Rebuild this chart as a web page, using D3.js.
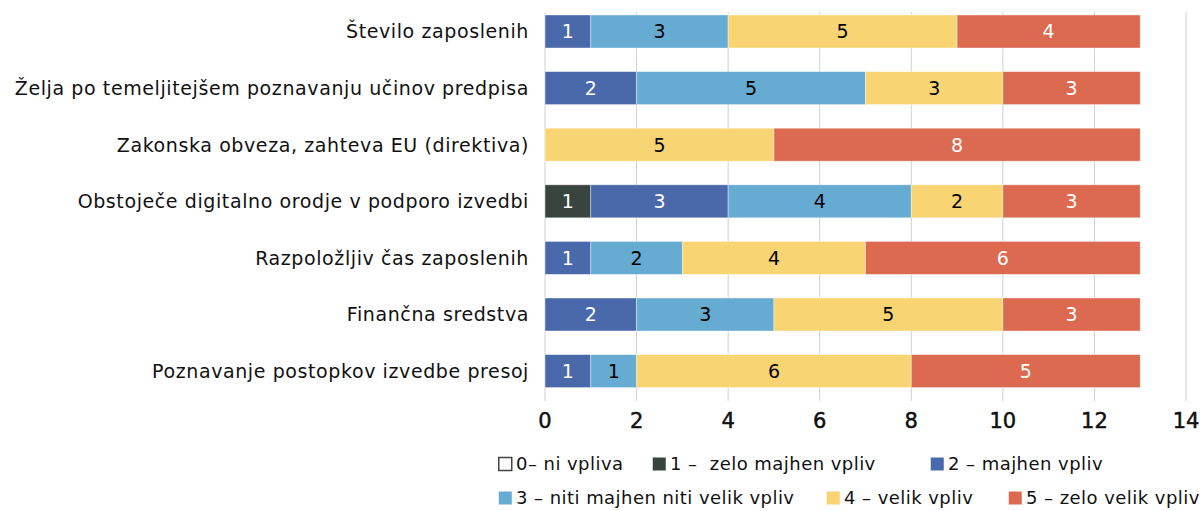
<!DOCTYPE html>
<html>
<head>
<meta charset="utf-8">
<script src="https://cdn.jsdelivr.net/npm/d3@7"></script>
<style>
  body { margin: 0; background: #fff; }
  text { font-family: "DejaVu Sans", sans-serif; white-space: pre; }
</style>
</head>
<body>
<svg id="chart" width="1203" height="511"></svg>
<script>
// categories, top to bottom
var categories = [
  "Število zaposlenih",
  "Želja po temeljitejšem poznavanju učinov predpisa",
  "Zakonska obveza, zahteva EU (direktiva)",
  "Obstoječe digitalno orodje v podporo izvedbi",
  "Razpoložljiv čas zaposlenih",
  "Finančna sredstva",
  "Poznavanje postopkov izvedbe presoj"
];

// one array per answer level (0..5), same order as categories
var s0 = [0, 0, 0, 0, 0, 0, 0];
var s1 = [0, 0, 0, 1, 0, 0, 0];
var s2 = [1, 2, 0, 3, 1, 2, 1];
var s3 = [3, 5, 0, 4, 2, 3, 1];
var s4 = [5, 3, 5, 2, 4, 5, 6];
var s5 = [4, 3, 8, 3, 6, 3, 5];

var seriesNames = ["0– ni vpliva", "1 –  zelo majhen vpliv", "2 – majhen vpliv",
                   "3 – niti majhen niti velik vpliv", "4 – velik vpliv", "5 – zelo velik vpliv"];
var seriesColors = ["#ffffff", "#39443f", "#4a69aa", "#66abd1", "#f8d472", "#dc6a51"];
var labelColors = ["#000", "#fff", "#fff", "#000", "#000", "#fff"];

var xTicks = [0, 2, 4, 6, 8, 10, 12, 14];

var svg = d3.select("#chart");

var x = d3.scaleLinear().domain([0, 14]).range([545, 1186]);
var y = d3.scaleBand().domain(categories).range([3.2, 399.4])
  .paddingInner(0.417).paddingOuter(0.2085);

// build rows
var all = [s0, s1, s2, s3, s4, s5];
var rows = categories.map(function(c, i) {
  var r = { cat: c };
  all.forEach(function(s, k) { r["k" + k] = s[i]; });
  return r;
});
var keys = all.map(function(s, k) { return "k" + k; });
var stacked = d3.stack().keys(keys)(rows);

// gridlines
svg.append("g").selectAll("line").data(xTicks).enter().append("line")
  .attr("x1", function(d) { return x(d); })
  .attr("x2", function(d) { return x(d); })
  .attr("y1", 12).attr("y2", 401)
  .attr("stroke", "#d0d0d0").attr("stroke-width", 1);

// bars
var layers = svg.append("g").selectAll("g").data(stacked).enter().append("g")
  .attr("fill", function(d, k) { return seriesColors[k]; });

layers.selectAll("rect").data(function(d) { return d; }).enter()
  .filter(function(d) { return d[1] - d[0] > 0; })
  .append("rect")
  .attr("x", function(d) { return x(d[0]); })
  .attr("width", function(d) { return x(d[1]) - x(d[0]); })
  .attr("y", function(d) { return y(d.data.cat); })
  .attr("height", y.bandwidth())
  .attr("stroke", "rgba(255,255,255,0.5)").attr("stroke-width", 0.8);

// value labels
layers.each(function(layer, k) {
  d3.select(this).selectAll("text").data(layer).enter()
    .filter(function(d) { return d[1] - d[0] > 0; })
    .append("text")
    .attr("x", function(d) { return (x(d[0]) + x(d[1])) / 2; })
    .attr("y", function(d) { return y(d.data.cat) + y.bandwidth() / 2; })
    .attr("dy", "0.36em")
    .attr("text-anchor", "middle")
    .attr("font-size", 19)
    .attr("fill", labelColors[k])
    .text(function(d) { return d[1] - d[0]; });
});

// category labels
svg.append("g").selectAll("text").data(categories).enter().append("text")
  .attr("x", 529)
  .attr("y", function(d) { return y(d) + y.bandwidth() / 2; })
  .attr("dy", "0.36em")
  .attr("text-anchor", "end")
  .attr("font-size", 19)
  .attr("letter-spacing", 0.6)
  .attr("fill", "#111")
  .text(function(d) { return d; });

// x axis tick labels
svg.append("g").selectAll("text").data(xTicks).enter().append("text")
  .attr("x", function(d) { return x(d); })
  .attr("y", 420)
  .attr("dy", "0.36em")
  .attr("text-anchor", "middle")
  .attr("font-size", 21)
  .attr("fill", "#111")
  .attr("stroke", "#111").attr("stroke-width", 0.5)
  .text(function(d) { return d; });

// legend
var legendPos = [
  [498, 464], [652, 464], [930, 464],
  [498, 498], [826, 498], [1008, 498]
];
var leg = svg.append("g").selectAll("g").data(seriesNames).enter().append("g")
  .attr("transform", function(d, i) { return "translate(" + legendPos[i][0] + "," + legendPos[i][1] + ")"; });
leg.append("rect")
  .attr("x", 0.75).attr("y", -6.5).attr("width", 13).attr("height", 13)
  .attr("fill", function(d, i) { return seriesColors[i]; })
  .attr("stroke", function(d, i) { return i === 0 ? "#444" : "none"; })
  .attr("stroke-width", 1.5);
leg.append("text")
  .attr("x", 18)
  .attr("dy", "0.36em")
  .attr("font-size", 18)
  .attr("letter-spacing", 0.45)
  .attr("fill", "#111")
  .text(function(d) { return d; });
</script>
</body>
</html>
